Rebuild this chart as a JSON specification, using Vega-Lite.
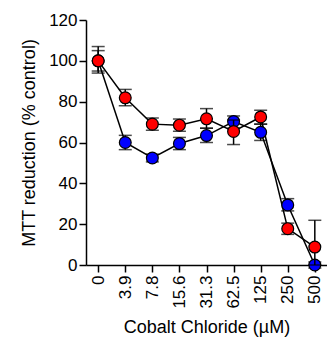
{
  "$schema": "https://vega.github.io/schema/vega-lite/v6.json",
  "width": 241,
  "height": 245,
  "autosize": "none",
  "padding": {"left": 86, "top": 20, "right": 0, "bottom": 77},
  "config": {
    "view": {"stroke": null},
    "font": "Liberation Sans",
    "axis": {
      "grid": false,
      "domainColor": "black",
      "domainWidth": 1.5,
      "tickColor": "black",
      "tickWidth": 1.5,
      "tickSize": 7,
      "labelColor": "black",
      "titleColor": "black",
      "labelFontSize": 17,
      "titleFontSize": 18,
      "titleFontWeight": "normal",
      "labelFont": "Liberation Sans",
      "titleFont": "Liberation Sans"
    }
  },
  "data": {
    "values": [
      {"conc": "0", "series": "red", "mean": 100, "lo": 94, "hi": 107},
      {"conc": "3.9", "series": "red", "mean": 81.9, "lo": 78, "hi": 86},
      {"conc": "7.8", "series": "red", "mean": 69, "lo": 66, "hi": 72},
      {"conc": "15.6", "series": "red", "mean": 68.5, "lo": 65.5, "hi": 71.5},
      {"conc": "31.3", "series": "red", "mean": 71.6, "lo": 67, "hi": 76.6},
      {"conc": "62.5", "series": "red", "mean": 65.4, "lo": 59, "hi": 71},
      {"conc": "125", "series": "red", "mean": 72.5, "lo": 69, "hi": 75.8},
      {"conc": "250", "series": "red", "mean": 17.8, "lo": 15, "hi": 20.5},
      {"conc": "500", "series": "red", "mean": 8.8, "lo": 0, "hi": 21.9},
      {"conc": "0", "series": "blue", "mean": 100, "lo": 95, "hi": 105},
      {"conc": "3.9", "series": "blue", "mean": 60, "lo": 56.5, "hi": 63.5},
      {"conc": "7.8", "series": "blue", "mean": 52.4, "lo": 50.5, "hi": 54.3},
      {"conc": "15.6", "series": "blue", "mean": 59.5, "lo": 56.5, "hi": 62.5},
      {"conc": "31.3", "series": "blue", "mean": 63.4, "lo": 60, "hi": 67},
      {"conc": "62.5", "series": "blue", "mean": 70.3, "lo": 67, "hi": 73},
      {"conc": "125", "series": "blue", "mean": 65, "lo": 61, "hi": 69},
      {"conc": "250", "series": "blue", "mean": 29.4, "lo": 26.5, "hi": 32.5},
      {"conc": "500", "series": "blue", "mean": 0, "lo": -1.5, "hi": 1.5}
    ]
  },
  "encoding": {
    "x": {
      "field": "conc",
      "type": "ordinal",
      "sort": ["0", "3.9", "7.8", "15.6", "31.3", "62.5", "125", "250", "500"],
      "scale": {"type": "point", "padding": 0.45},
      "axis": {"labelAngle": -90, "title": "Cobalt Chloride (µM)", "titlePadding": 10, "labelPadding": 3}
    }
  },
  "layer": [
    {
      "mark": {"type": "line", "color": "black", "strokeWidth": 1.5},
      "encoding": {
        "y": {
          "field": "mean",
          "type": "quantitative",
          "scale": {"domain": [0, 120]},
          "axis": {"values": [0, 20, 40, 60, 80, 100, 120], "title": "MTT reduction (% control)", "titlePadding": 10, "labelPadding": 2}
        },
        "detail": {"field": "series"}
      }
    },
    {
      "transform": [{"filter": "datum.series === 'blue'"}],
      "layer": [
        {"mark": {"type": "rule", "color": "black", "strokeWidth": 1.5},
         "encoding": {"y": {"field": "lo", "type": "quantitative"}, "y2": {"field": "hi"}}},
        {"mark": {"type": "tick", "color": "black", "thickness": 1.5, "size": 13, "orient": "horizontal"},
         "encoding": {"y": {"field": "lo", "type": "quantitative"}}},
        {"mark": {"type": "tick", "color": "black", "thickness": 1.5, "size": 13, "orient": "horizontal"},
         "encoding": {"y": {"field": "hi", "type": "quantitative"}}},
        {"mark": {"type": "point", "shape": "circle", "filled": true, "fill": "#0000ff", "stroke": "black", "strokeWidth": 1.2, "size": 140, "opacity": 1},
         "encoding": {"y": {"field": "mean", "type": "quantitative"}}}
      ]
    },
    {
      "transform": [{"filter": "datum.series === 'red'"}],
      "layer": [
        {"mark": {"type": "rule", "color": "black", "strokeWidth": 1.5},
         "encoding": {"y": {"field": "lo", "type": "quantitative"}, "y2": {"field": "hi"}}},
        {"mark": {"type": "tick", "color": "black", "thickness": 1.5, "size": 13, "orient": "horizontal"},
         "encoding": {"y": {"field": "lo", "type": "quantitative"}}},
        {"mark": {"type": "tick", "color": "black", "thickness": 1.5, "size": 13, "orient": "horizontal"},
         "encoding": {"y": {"field": "hi", "type": "quantitative"}}},
        {"mark": {"type": "point", "shape": "circle", "filled": true, "fill": "#ff0000", "stroke": "black", "strokeWidth": 1.2, "size": 140, "opacity": 1},
         "encoding": {"y": {"field": "mean", "type": "quantitative"}}}
      ]
    }
  ]
}
